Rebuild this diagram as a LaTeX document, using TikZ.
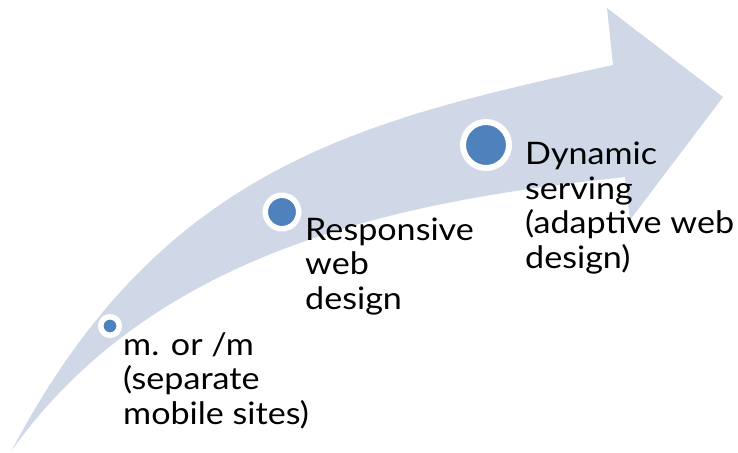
\documentclass[tikz,border=0pt]{standalone}
\usepackage{fontspec}
\setmainfont{Lato}[FakeStretch=1.1]
\definecolor{arrowfill}{HTML}{D0D8E8}
\definecolor{dotblue}{HTML}{4F81BD}
\begin{document}
\begin{tikzpicture}[x=1pt, y=-1pt,
    dot/.style={circle, inner sep=0pt, fill=dotblue, draw=white},
    stage/.style={anchor=base west, align=left, inner sep=0pt, font=\fontsize{31}{34.5}\selectfont}]
    \useasboundingbox (0,0) rectangle (738,452);
    % Draw the curved arrow.
    \fill[arrowfill] (12,450) .. controls (162,165) and (363,120) .. (613,65) -- (607,8) -- (723,97)
      -- (630,220) -- (625,177) .. controls (425,199) and (162,240) .. (12,450) -- cycle;
    % Draw the three stages on the arrow.
    \node[dot, line width=5.5pt, minimum size=18.5pt] (c1) at (110,326) {};
    \node[dot, line width=5.5pt, minimum size=33.5pt] (c2) at (282,212) {};
    \node[dot, line width=6pt, minimum size=46pt] (c3) at (486,145) {};
    % Draw the labels of the stages (placed at the baseline of their last line).
    \node[stage] (l1) at (123,424) {m. or /m\\(separate\\mobile sites)};
    \node[stage] (l2) at (305,309) {Responsive\\web\\design};
    \node[stage] (l3) at (525,268) {Dynamic\\serving\\(adaptive web\\design)};
\end{tikzpicture}
\end{document}
